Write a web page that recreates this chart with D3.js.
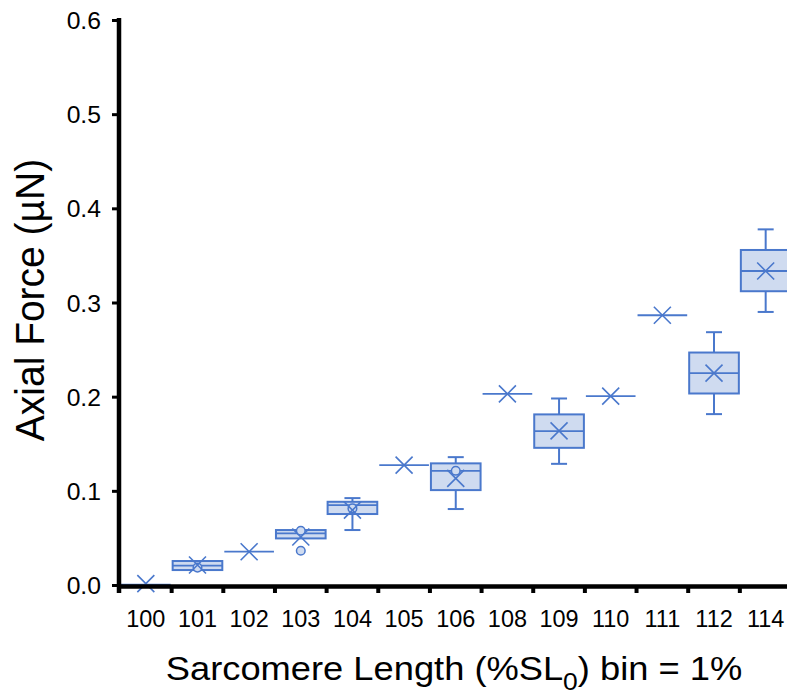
<!DOCTYPE html>
<html>
<head>
<meta charset="utf-8">
<script src="https://cdn.jsdelivr.net/npm/d3@7"></script>
<style>
  body { margin: 0; background: #fff; }
  text { font-family: "Liberation Sans", Arial, sans-serif; fill: #000; }
</style>
</head>
<body>
<svg id="chart" width="787" height="694"></svg>
<script>
const categories = ["100", "101", "102", "103", "104", "105", "106", "108", "109", "110", "111", "112", "114"];
const whiskerMin = [0.001, 0.0164, 0.0359, 0.050, 0.0589, 0.1279, 0.0812, 0.2035, 0.1292, 0.2011, 0.287, 0.182, 0.2905];
const q1 = [0.001, 0.0164, 0.0359, 0.050, 0.0759, 0.1279, 0.1013, 0.2035, 0.1462, 0.2011, 0.287, 0.2039, 0.3125];
const median = [0.001, 0.0212, 0.0359, 0.0554, 0.0854, 0.1279, 0.1218, 0.2035, 0.1639, 0.2011, 0.287, 0.2255, 0.334];
const q3 = [0.001, 0.026, 0.0359, 0.0589, 0.0889, 0.1279, 0.1297, 0.2035, 0.1817, 0.2011, 0.287, 0.2474, 0.3563];
const whiskerMax = [0.001, 0.026, 0.0359, 0.0589, 0.0928, 0.1279, 0.1363, 0.2035, 0.1986, 0.2011, 0.287, 0.269, 0.3782];
const means = [0.002, 0.0218, 0.0359, 0.0515, 0.080, 0.1279, 0.1137, 0.2035, 0.1642, 0.2011, 0.287, 0.2255, 0.334];
const points = [[], [0.019], [], [0.0581, 0.0369], [0.0819], [], [0.1218], [], [], [], [], [], []];
const yTicks = [0, 0.1, 0.2, 0.3, 0.4, 0.5, 0.6];

const svg = d3.select("#chart");
const stroke = "#4a78cc",
  fill = "#cfdbf0";

const x = d3.scaleBand().domain(categories).range([120, 791.5]).padding(0);
const y = d3.scaleLinear().domain([0, 0.6]).range([585.5, 20.5]);

const data = categories.map((c, i) => ({
  cat: c,
  lo: whiskerMin[i],
  q1: q1[i],
  med: median[i],
  q3: q3[i],
  hi: whiskerMax[i],
  mean: means[i],
  pts: points[i],
}));

const boxes = svg.append("g").selectAll("g").data(data).join("g");
const cx = (d) => x(d.cat) + x.bandwidth() / 2;

// whiskers + caps
boxes.filter((d) => d.hi > d.q3).append("line")
  .attr("x1", cx).attr("x2", cx)
  .attr("y1", (d) => y(d.q3)).attr("y2", (d) => y(d.hi))
  .attr("stroke", stroke).attr("stroke-width", 2);
boxes.filter((d) => d.lo < d.q1).append("line")
  .attr("x1", cx).attr("x2", cx)
  .attr("y1", (d) => y(d.q1)).attr("y2", (d) => y(d.lo))
  .attr("stroke", stroke).attr("stroke-width", 2);
boxes.filter((d) => d.hi > d.q3).append("line")
  .attr("x1", (d) => cx(d) - 8).attr("x2", (d) => cx(d) + 8)
  .attr("y1", (d) => y(d.hi)).attr("y2", (d) => y(d.hi))
  .attr("stroke", stroke).attr("stroke-width", 2);
boxes.filter((d) => d.lo < d.q1).append("line")
  .attr("x1", (d) => cx(d) - 8).attr("x2", (d) => cx(d) + 8)
  .attr("y1", (d) => y(d.lo)).attr("y2", (d) => y(d.lo))
  .attr("stroke", stroke).attr("stroke-width", 2);

// box
boxes.append("rect")
  .attr("x", (d) => x(d.cat) + 1)
  .attr("width", x.bandwidth() - 2)
  .attr("y", (d) => y(d.q3))
  .attr("height", (d) => y(d.q1) - y(d.q3))
  .attr("fill", fill)
  .attr("stroke", stroke)
  .attr("stroke-width", 2);

// median
boxes.append("line")
  .attr("x1", (d) => x(d.cat) + 1).attr("x2", (d) => x(d.cat) + x.bandwidth() - 1)
  .attr("y1", (d) => y(d.med)).attr("y2", (d) => y(d.med))
  .attr("stroke", stroke).attr("stroke-width", 1.8);

// inner points
boxes.selectAll("circle").data((d) => d.pts.map((v) => ({ v, d }))).join("circle")
  .attr("cx", (p) => cx(p.d))
  .attr("cy", (p) => y(p.v))
  .attr("r", 4.3)
  .attr("fill", fill)
  .attr("stroke", stroke)
  .attr("stroke-width", 1.5);

// mean markers
const m = 8.5;
boxes.append("path")
  .attr("d", (d) => {
    const px = cx(d), py = y(d.mean);
    return `M${px - m},${py - m}L${px + m},${py + m}M${px - m},${py + m}L${px + m},${py - m}`;
  })
  .attr("stroke", stroke)
  .attr("stroke-width", 1.6)
  .attr("fill", "none");

// axes
const axes = svg.append("g");
axes.append("line")
  .attr("x1", 119).attr("x2", 119).attr("y1", 18).attr("y2", 593)
  .attr("stroke", "#000").attr("stroke-width", 4.5);
axes.append("line")
  .attr("x1", 117).attr("x2", 787).attr("y1", y(0) + 1).attr("y2", y(0) + 1)
  .attr("stroke", "#000").attr("stroke-width", 4.5);

axes.selectAll("line.ytick").data(yTicks).join("line")
  .attr("class", "ytick")
  .attr("x1", 112).attr("x2", 119)
  .attr("y1", (d) => y(d)).attr("y2", (d) => y(d))
  .attr("stroke", "#000").attr("stroke-width", 3);

axes.selectAll("line.xtick").data(categories.slice(1)).join("line")
  .attr("class", "xtick")
  .attr("x1", (d) => x(d)).attr("x2", (d) => x(d))
  .attr("y1", y(0)).attr("y2", 593)
  .attr("stroke", "#000").attr("stroke-width", 4);

axes.selectAll("text.ylab").data(yTicks).join("text")
  .attr("class", "ylab")
  .attr("transform", (d) => `translate(101,${y(d) + 8.5}) scale(1.03,1)`)
  .attr("text-anchor", "end")
  .style("font-size", "24px")
  .text((d) => d3.format(".1f")(d));

axes.selectAll("text.xlab").data(categories).join("text")
  .attr("class", "xlab")
  .attr("transform", (d) => `translate(${x(d) + x.bandwidth() / 2},627) scale(1.02,1)`)
  .attr("text-anchor", "middle")
  .style("font-size", "23px")
  .text((d) => d);

// titles
const xt = svg.append("text")
  .attr("transform", `translate(454,680) scale(1.1,1)`)
  .attr("text-anchor", "middle")
  .style("font-size", "33px");
xt.append("tspan").text("Sarcomere Length (%SL");
xt.append("tspan").attr("dy", 10).style("font-size", "24px").text("0");
xt.append("tspan").attr("dy", -10).text(") bin = 1%");

svg.append("text")
  .attr("transform", `translate(44,300) rotate(-90) scale(1,1.05)`)
  .attr("text-anchor", "middle")
  .style("font-size", "39px")
  .text("Axial Force (µN)");
</script>
</body>
</html>
